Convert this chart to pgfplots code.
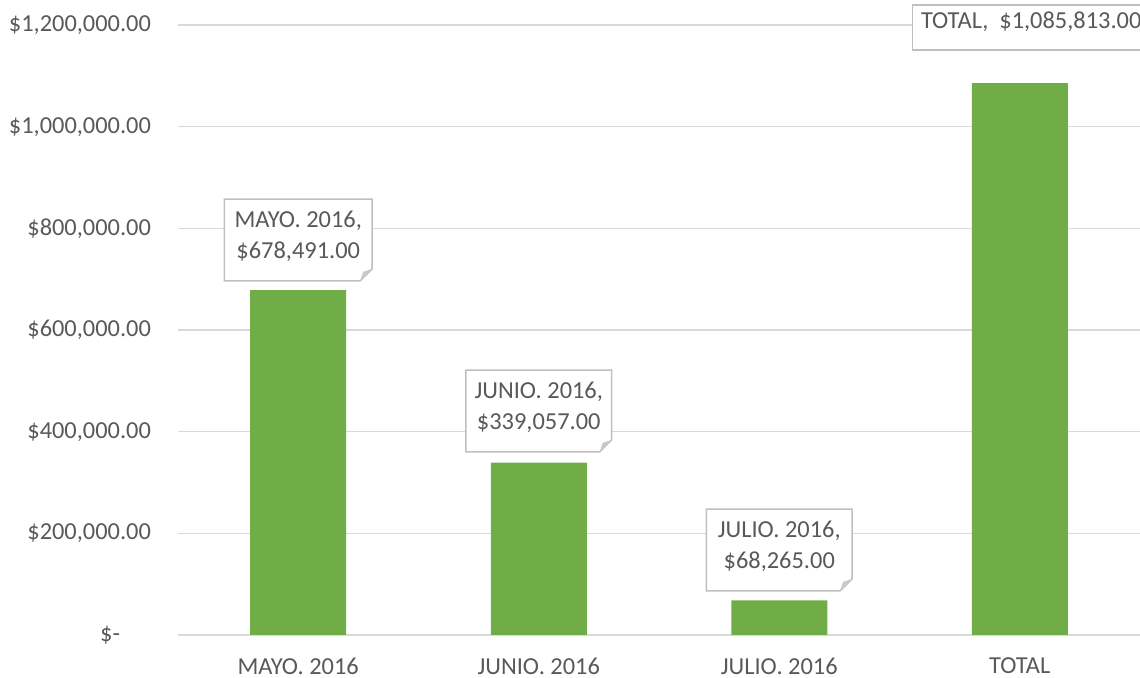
\documentclass[border=0pt]{standalone}
\usepackage{fontspec}
\setmainfont{Carlito}
\usepackage{pgfplots}
\pgfplotsset{compat=1.18}
\definecolor{bargreen}{HTML}{70AD47}
\definecolor{txt}{HTML}{595959}
\definecolor{gridc}{HTML}{D9D9D9}
\definecolor{boxc}{HTML}{BFBFBF}
\definecolor{foldc}{HTML}{C9C9C9}
\newcommand{\callout}[6]{% name, at, width, height, text, text yshift
  \node[minimum width=#3, minimum height=#4, inner sep=0pt] (#1) at (#2) {};
  \filldraw[draw=boxc, fill=white, line width=0.75pt] (#1.north west) -- (#1.north east) -- ([yshift=6pt]#1.south east) -- ([xshift=-6pt]#1.south east) -- (#1.south west) -- cycle;
  \fill[foldc] ([yshift=6pt]#1.south east) -- ([xshift=-6pt]#1.south east) -- ([xshift=-4.5pt,yshift=4.5pt]#1.south east) -- cycle;
  \node[align=center, inner sep=0pt, text=txt] at ([yshift=#6]#1.center) {#5};
}
\begin{document}
\begin{tikzpicture}[font=\fontsize{12.2}{15.5}\selectfont]
\begin{axis}[
  scale only axis, width=481pt, height=305pt, at={(0,0)}, anchor=south west,
  xmin=-0.5, xmax=3.5, ymin=0, ymax=1200000,
  xtick={0,1,2,3},
  xticklabels={MAYO. 2016, JUNIO. 2016, JULIO. 2016, TOTAL},
  ytick={0,200000,400000,600000,800000,1000000,1200000},
  yticklabels={\$-\hphantom{.00}, \$200{,}000.00, \$400{,}000.00, \$600{,}000.00, \$800{,}000.00, \$1{,}000{,}000.00, \$1{,}200{,}000.00},
  scaled y ticks=false,
  ymajorgrids, grid style={gridc, line width=0.75pt},
  axis line style={draw=none},
  major tick length=0pt,
  tick label style={text=txt, font=\fontsize{12.2}{14}\selectfont},
  yticklabel style={xshift=-10pt},
  xticklabel style={yshift=-8pt},
  clip=false,
]
\addplot[ybar, bar width=48pt, fill=bargreen, draw=none] coordinates {(0,678491) (1,339057) (2,68265) (3,1085813)};
\coordinate (c1) at (axis cs:0,777049);
\coordinate (c2) at (axis cs:1,440656);
\coordinate (c3) at (axis cs:2,167213);
\coordinate (c4) at (axis cs:3.04,1195082);
\end{axis}
\callout{b1}{c1}{73.5pt}{40.5pt}{MAYO. 2016,\\\$678,491.00}{2pt}
\callout{b2}{c2}{72.5pt}{40.5pt}{JUNIO. 2016,\\\$339,057.00}{2pt}
\callout{b3}{c3}{72.5pt}{40.5pt}{JULIO. 2016,\\\$68,265.00}{2pt}
\node[minimum width=117pt, minimum height=22.5pt, inner sep=0pt, draw=boxc, fill=white, line width=0.75pt] (b4) at (c4) {};
\node[anchor=west, inner sep=0pt, text=txt] at ([xshift=4.5pt,yshift=2.75pt]b4.west) {TOTAL,\ \ \$1,085,813.00};
\pgfresetboundingbox
\path (-89pt,-21.5pt) rectangle (481pt,317.5pt);
\end{tikzpicture}
\end{document}
